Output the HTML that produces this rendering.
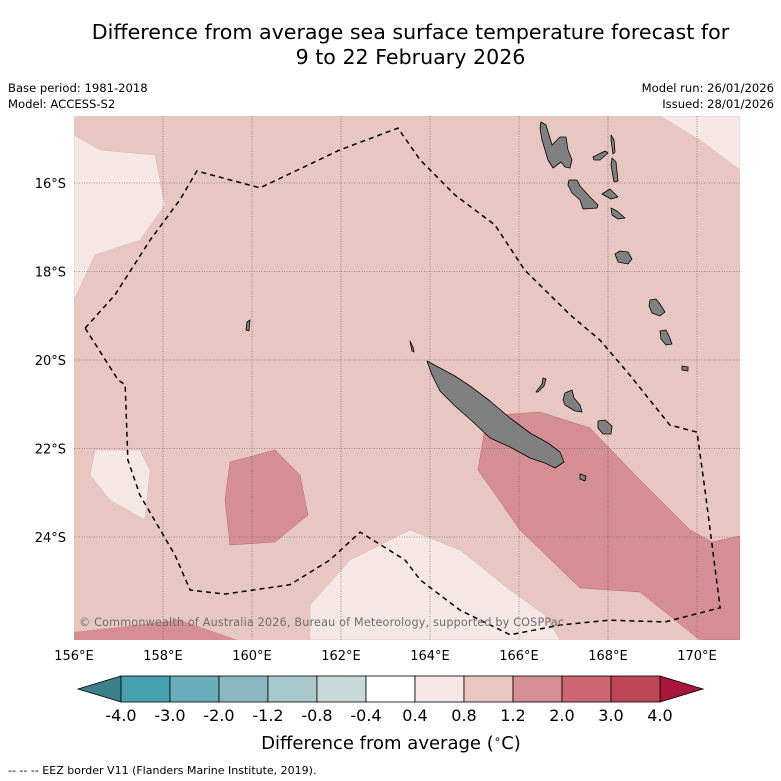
<!DOCTYPE html>
<html><head><meta charset="utf-8">
<style>
body{margin:0;background:#fff;font-family:"Liberation Sans","DejaVu Sans",sans-serif;}
#wrap{position:relative;width:781px;height:781px;overflow:hidden;}
.t{position:absolute;color:#000;white-space:nowrap;}
</style></head>
<body>
<div id="wrap">
<div class="t" style="left:0;width:821px;text-align:center;top:20px;font-size:20.6px;line-height:25px;font-family:'DejaVu Sans',sans-serif;">Difference from average sea surface temperature forecast for<br>9 to 22 February 2026</div>
<div class="t" style="left:8px;top:80px;font-size:11.6px;line-height:16px;font-family:'DejaVu Sans',sans-serif;">Base period: 1981-2018<br>Model: ACCESS-S2</div>
<div class="t" style="right:7px;top:80px;font-size:11.6px;line-height:16px;text-align:right;font-family:'DejaVu Sans',sans-serif;">Model run: 26/01/2026<br>Issued: 28/01/2026</div>
<svg id="map" width="781" height="781" style="position:absolute;left:0;top:0">
<defs><clipPath id="mc"><rect x="74" y="116" width="666" height="524"/></clipPath></defs>
<g clip-path="url(#mc)">
<rect x="74" y="116" width="666" height="524" fill="#e8c7c2"/>
<path d="M74,135 L100,150 L155,155 L165,205 L140,240 L95,255 L74,300Z" fill="#f4e7e5" stroke="#d9b8b3" stroke-width="0.5"/>
<path d="M95,450 L140,450 L150,470 L145,520 L110,500 L90,475Z" fill="#f4e7e5" stroke="#d9b8b3" stroke-width="0.5"/>
<path d="M310,605 L350,560 L410,530 L460,550 L510,590 L545,615 L560,640 L310,640Z" fill="#f4e7e5" stroke="#d9b8b3" stroke-width="0.5"/>
<path d="M660,116 L740,116 L740,170 L700,140Z" fill="#f4e7e5" stroke="#d9b8b3" stroke-width="0.5"/>
<path d="M230,462 L275,450 L300,475 L308,515 L275,542 L230,545 L225,500Z" fill="#d68e95" stroke="#b66" stroke-width="0.5"/>
<path d="M487,416 L540,412 L590,428 L640,480 L690,530 L712,542 L740,536 L740,640 L700,640 L640,592 L580,588 L520,530 L478,470Z" fill="#d68e95" stroke="#b66" stroke-width="0.5"/>
<path d="M74,632 L180,620 L238,640 L74,640Z" fill="#d68e95"/>
<g id="grid" stroke="#555" stroke-width="0.6" stroke-dasharray="1,1.5" fill="none"></g>
<g fill="#808080" stroke="#000" stroke-width="0.8" stroke-linejoin="round">
<path d="M427,361 L440,368 L455,376 L470,386 L490,401 L510,418 L530,433 L548,443 L560,452 L564,462 L555,468 L545,463 L530,458 L510,447 L490,438 L472,421 L455,406 L440,391 L432,375Z"/>
<path d="M565,393 L572,390 L574,398 L580,405 L582,412 L575,411 L565,405 L563,400Z"/>
<path d="M598,421 L605,420 L612,426 L611,434 L603,434 L598,428Z"/>
<path d="M580,474 L586,476 L585,481 L580,479Z"/>
<path d="M536,392 L542,384 L543,378 L546,379 L544,386 L538,392Z"/>
<path d="M541,122 L546,125 L552,145 L560,137 L566,137 L568,150 L572,160 L570,168 L565,167 L561,162 L553,168 L548,160 L542,140 L540,128Z"/>
<path d="M569,180 L577,180 L580,186 L590,197 L598,205 L597,208 L583,209 L580,200 L572,193 L568,185Z"/>
<path d="M611,135 L614,140 L615,152 L613,154 L611,140Z"/>
<path d="M612,158 L616,162 L618,181 L614,182 L611,165Z"/>
<path d="M593,157 L605,151 L608,153 L600,160 L594,160Z"/>
<path d="M602,194 L610,189 L618,197 L611,199Z"/>
<path d="M611,208 L617,211 L625,218 L618,219 L612,215Z"/>
<path d="M615,254 L620,251 L628,252 L632,259 L628,264 L618,262Z"/>
<path d="M650,300 L656,299 L660,304 L665,312 L660,316 L652,313 L649,306Z"/>
<path d="M660,331 L666,330 L669,336 L672,344 L666,345 L661,339Z"/>
<path d="M682,366 L688,367 L688,371 L682,370Z"/>
<path d="M247,322 L250,320 L249,331 L246,330Z"/>
<path d="M410,341 L413,347 L414,352 L412,351Z"/>
</g>
<path id="eez" fill="none" stroke="#000" stroke-width="1.5" stroke-dasharray="5,4"/>
</g>
<g id="axes"></g>
<text x="79" y="626" font-size="11.2" fill="#6e6e6e" font-family="DejaVu Sans,sans-serif" textLength="485">© Commonwealth of Australia 2026, Bureau of Meteorology, supported by COSPPac</text>
<g id="cbar"></g>
<text x="391" y="749" text-anchor="middle" font-size="18" font-family="DejaVu Sans,sans-serif">Difference from average (<tspan font-size="12" dy="-6">∘</tspan><tspan dy="6">C)</tspan></text>
<text x="8" y="774" font-size="11" font-family="DejaVu Sans,sans-serif">--  --  -- EEZ border V11 (Flanders Marine Institute, 2019).</text>
</svg>
</div>
<script>
const lonTicks=[156,158,160,162,164,166,168,170];
const latTicks=[16,18,20,22,24];
const eezLon=[156.25,156.92,157.71,158.38,158.76,160.18,161.98,163.28,163.78,164.56,165.46,166.13,167.15,167.82,168.49,169.39,170.0,170.18,170.52,169.28,168.04,166.92,165.80,164.67,163.78,163.44,162.43,161.75,160.85,159.39,158.61,158.27,157.48,157.21,157.15,156.99,156.25];
const eezLat=[19.28,18.53,17.29,16.38,15.73,16.11,15.25,14.76,15.48,16.27,16.95,17.97,18.98,19.55,20.34,21.47,21.63,22.94,25.60,25.92,25.88,25.99,26.21,25.65,24.97,24.52,23.89,24.52,25.08,25.29,25.20,24.41,23.05,22.26,20.56,20.45,19.28];
const cbLabels=["-4.0","-3.0","-2.0","-1.2","-0.8","-0.4","0.4","0.8","1.2","2.0","3.0","4.0"];
const cbColors=["#47a0b0","#6aadba","#8bb7c2","#a8c8cc","#c9d9da","#ffffff","#f4e7e5","#e8c7c2","#d68e95","#cd6672","#bf4655"];
const X=lon=>74+(lon-156)*44.5, Y=lat=>183+(lat-16)*44.25;
const NS="http://www.w3.org/2000/svg";
function mk(tag,at,parent){const e=document.createElementNS(NS,tag);for(const k in at)e.setAttribute(k,at[k]);parent.appendChild(e);return e;}
document.getElementById('eez').setAttribute('d',eezLon.map((l,i)=>(i?'L':'M')+X(l)+','+Y(eezLat[i])).join(' '));
const grid=document.getElementById('grid'),axes=document.getElementById('axes');
lonTicks.forEach(l=>{
 if(l>156){const g=mk('line',{x1:X(l),x2:X(l),y1:116,y2:640},grid);
 
 }
 const t=mk('text',{x:X(l),y:660,'text-anchor':'middle','font-size':13,'font-family':'DejaVu Sans,sans-serif'},axes);t.textContent=l+'°E';
 
 
});
latTicks.forEach(l=>{
 const g=mk('line',{x1:74,x2:740,y1:Y(l),y2:Y(l)},grid);
 
 
 const t=mk('text',{x:66,y:Y(l)+5,'text-anchor':'end','font-size':13,'font-family':'DejaVu Sans,sans-serif'},axes);t.textContent=l+'°S';
 
 
});
const cb=document.getElementById('cbar');const x0=121,w=49,y0=676,h=26;
const tl=mk('path',{d:`M${x0},${y0} L78,${y0+h/2} L${x0},${y0+h}Z`,fill:'#3a7f8a',stroke:'#000','stroke-width':0.8},cb);


const xe=x0+w*cbColors.length;
const tr=mk('path',{d:`M${xe},${y0} L${xe+43},${y0+h/2} L${xe},${y0+h}Z`,fill:'#a8173a',stroke:'#000','stroke-width':0.8},cb);


cbColors.forEach((c,i)=>{const r=mk('rect',{x:x0+i*w,y:y0,width:w,height:h,fill:c,stroke:'#000','stroke-width':0.8},cb);
 
 });
cbLabels.forEach((s,i)=>{const t=mk('text',{x:x0+i*w,y:721,'text-anchor':'middle','font-size':16,'font-family':'DejaVu Sans,sans-serif'},cb);t.textContent=s;
 
 });
</script>
</body></html>
